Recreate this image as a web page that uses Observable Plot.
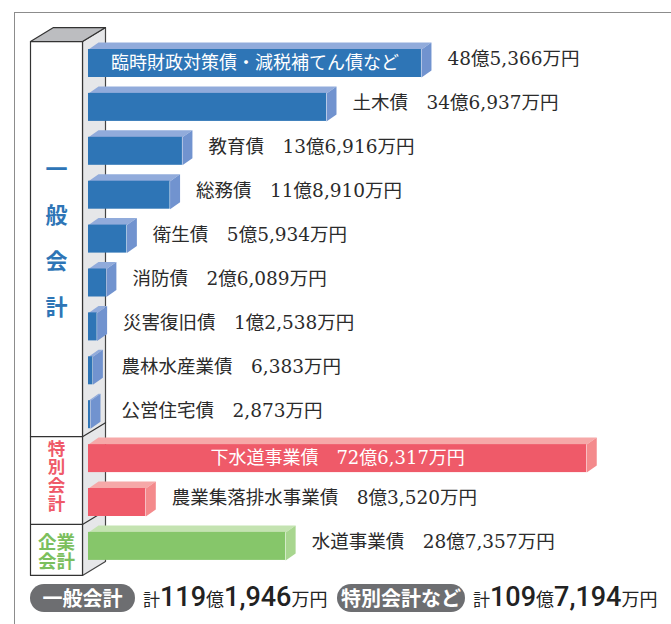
<!DOCTYPE html>
<html>
<head>
<meta charset="utf-8">
<script src="https://cdn.jsdelivr.net/npm/d3@7"></script>
<script src="https://cdn.jsdelivr.net/npm/@observablehq/plot@0.6"></script>
<style>
  html, body { margin: 0; padding: 0; background: #fff; }
  body { width: 671px; height: 624px; position: relative; overflow: hidden; font-family: "Noto Sans CJK JP", sans-serif; }
  #chart { position: absolute; left: 0; top: 0; }
  #frame { position: absolute; left: 14px; top: 12px; width: 657px; height: 612px; box-sizing: border-box;
           border-left: 1.5px solid #8c8c8c; border-top: 1.5px solid #8c8c8c; pointer-events: none; }
  .tot { position: absolute; top: 584px; display: flex; align-items: center; color: #222; }
  .pill { display: inline-block; height: 28px; line-height: 28px; border-radius: 14px; background: #6d6e71; color: #fff;
          font-family: "Noto Sans CJK JP", sans-serif; font-size: 20px; font-weight: 700; text-align: center; }
  .sum { display: inline-flex; align-items: baseline; margin-left: 8px; line-height: 1; margin-top: -2px; }
  .sum .k { font-family: "Noto Sans CJK JP", sans-serif; font-size: 17px; font-weight: 400; }
  .sum .b { font-family: "Roboto", "Noto Sans CJK JP", sans-serif; font-size: 27px; font-weight: 500; }
  .sum .m { font-family: "Noto Sans CJK JP", sans-serif; font-size: 18px; font-weight: 400; }
</style>
</head>
<body>
<div id="chart"></div>
<div id="frame"></div>
<div id="totals"></div>
<script>
// ---------------- data ----------------
const names = ["臨時財政対策債・減税補てん債など", "土木債", "教育債", "総務債", "衛生債", "消防債",
               "災害復旧債", "農林水産業債", "公営住宅債", "下水道事業債", "農業集落排水事業債", "水道事業債"];
// values in 億円
const values = [48.5366, 34.6937, 13.6916, 11.8910, 5.5934, 2.6089, 1.2538, 0.6383, 0.2873, 72.6317, 8.3520, 28.7357];
const accounts = ["一般会計", "一般会計", "一般会計", "一般会計", "一般会計", "一般会計", "一般会計", "一般会計", "一般会計",
                  "特別会計", "特別会計", "企業会計"];
// label placement: "split" = name inside / value outside, "in" = all inside, "out" = all outside
const labelModes = ["split", "out", "out", "out", "out", "out", "out", "out", "out", "in", "out", "out"];
const groups = ["一般会計", "特別会計", "企業会計"];
const groupLines = [["一", "般", "会", "計"], ["特", "別", "会", "計"], ["企業", "会計"]];
const totalLabels = ["一般会計", "特別会計など"];

// ---------------- style / layout ----------------
const palette = {
  "一般会計": {front: "#2e75b6", top: "#91abdb", side: "#7193cf", text: "#2e75b6"},
  "特別会計": {front: "#ef5a69", top: "#f6a8a8", side: "#f48a8c", text: "#ef5a69"},
  "企業会計": {front: "#86c66a", top: "#c4e3b1", side: "#a8d68f", text: "#7bbf5e"}
};
const groupFont = {"一般会計": {fs: 22, lh: 46 / 22, shift: -8}, "特別会計": {fs: 17.5, lh: 18.6 / 17.5, shift: -4}, "企業会計": {fs: 18.5, lh: 19 / 18.5, shift: 2}};
const W = 671, H = 580;
const PX = 6.86;          // pixels per 億円
const X0 = 88;            // pixel of zero
const ROW0 = 63, STEP = 43.9;
const BAR_H = 28, DX = 10, DY = 7;
const xd = p => (p - X0) / PX;          // pixel -> x data
const yd = p => (p - ROW0) / STEP;      // pixel -> y data
const yp = r => ROW0 + r * STEP;        // row -> pixel

function fmt(v) {
  const n = Math.round(v * 10000);
  const oku = Math.floor(n / 10000), man = n % 10000;
  return (oku > 0 ? oku + "億" : "") + d3.format(",")(man) + "万円";
}

const rows = names.map((name, i) => ({i, name, v: values[i], acc: accounts[i], mode: labelModes[i]}));

// 3D bar faces
const ddx = DX / PX, ddy = DY / STEP, hh = BAR_H / 2 / STEP;
const topPts = [], sidePts = [];
rows.forEach(r => {
  const t = r.i - hh, b = r.i + hh;
  [[0, t], [r.v, t], [r.v + ddx, t - ddy], [ddx, t - ddy], [0, t]].forEach(([x, y]) => topPts.push({id: r.i, acc: r.acc, x, y}));
  [[r.v, t], [r.v + ddx, t - ddy], [r.v + ddx, b - ddy], [r.v, b], [r.v, t]].forEach(([x, y]) => sidePts.push({id: r.i, acc: r.acc, x, y}));
});

// box (legend column) geometry in pixels
const boxL = 30, boxR = 82, depthX = 23, depthY = 14;
const boxTop = yp(-0.5);
const div1 = yp(8.5), div2 = yp(10.5);
const boxBot = yp(11) + 29;
const poly = (id, pts) => pts.map(([px, py]) => ({id, x: xd(px), y: yd(py)}));
const boxSide = poly("side", [[boxR, boxTop], [boxR + depthX, boxTop - depthY], [boxR + depthX, boxBot - depthY], [boxR, boxBot], [boxR, boxTop]]);
const boxTopFace = poly("top", [[boxL, boxTop], [boxL + depthX, boxTop - depthY], [boxR + depthX, boxTop - depthY], [boxR, boxTop], [boxL, boxTop]]);
const boxFront = poly("front", [[boxL, boxTop], [boxR, boxTop], [boxR, boxBot], [boxL, boxBot], [boxL, boxTop]]);
const boxLines = [
  ...poly("d1", [[boxL, div1], [boxR, div1], [boxR + depthX, div1 - depthY]]),
  ...poly("d2", [[boxL, div2], [boxR, div2], [boxR + depthX, div2 - depthY]])
];

// vertical group labels (one multi-line text per group)
const cx = (boxL + boxR) / 2;
const spans = {"一般会計": [boxTop, div1], "特別会計": [div1, div2], "企業会計": [div2, boxBot]};
const groupText = groups.map((g, k) => {
  const [a, b] = spans[g];
  return {g, t: groupLines[k].join("\n"), x: xd(cx), y: yd((a + b) / 2 + groupFont[g].shift)};
});

// bar labels
const labelFont = "'DejaVu Serif', 'Noto Sans CJK JP', serif";
const outX = r => xd(Math.max(X0 + r.v * PX + DX + 16, 121));
const labelsOut = [], labelsIn = [];
rows.forEach(r => {
  const val = fmt(r.v);
  if (r.mode === "out") labelsOut.push({x: outX(r), y: r.i, t: r.name + "\u3000" + val});
  else if (r.mode === "split") {
    labelsIn.push({x: r.v / 2, y: r.i, t: r.name});
    labelsOut.push({x: outX(r), y: r.i, t: val});
  } else labelsIn.push({x: r.v / 2, y: r.i, t: r.name + "\u3000" + val});
});

const marks = [
  Plot.line(boxSide, {x: "x", y: "y", z: "id", fill: "#e6e7e9", stroke: "#444", strokeWidth: 1.2}),
  Plot.line(boxTopFace, {x: "x", y: "y", z: "id", fill: "#bcbdc0", stroke: "#333", strokeWidth: 1.2}),
  Plot.line(boxFront, {x: "x", y: "y", z: "id", fill: "#fff", stroke: "#333", strokeWidth: 1.2}),
  Plot.line(boxLines, {x: "x", y: "y", z: "id", stroke: "#333", strokeWidth: 1.2}),
  ...groups.map(g => Plot.line(topPts.filter(d => d.acc === g), {x: "x", y: "y", z: "id", fill: palette[g].top, stroke: "none"})),
  ...groups.map(g => Plot.line(sidePts.filter(d => d.acc === g), {x: "x", y: "y", z: "id", fill: palette[g].side, stroke: "none"})),
  ...groups.map(g => Plot.rect(rows.filter(r => r.acc === g), {x1: 0, x2: "v", y1: r => r.i - hh, y2: r => r.i + hh, fill: palette[g].front})),
  Plot.text(labelsOut, {x: "x", y: "y", text: "t", textAnchor: "start", fill: "#2b2b2b", fontSize: 18.5, fontFamily: labelFont, dy: -4}),
  Plot.text(labelsIn, {x: "x", y: "y", text: "t", textAnchor: "middle", fill: "#fff", fontSize: 18, fontFamily: labelFont}),
  ...groups.map(g => Plot.text(groupText.filter(d => d.g === g), {x: "x", y: "y", text: "t", fill: palette[g].text,
      fontSize: groupFont[g].fs, lineHeight: groupFont[g].lh, fontWeight: "bold", fontFamily: "'Noto Sans CJK JP', sans-serif"}))
];

const svg = Plot.plot({
  width: W, height: H,
  marginTop: 0, marginBottom: 0, marginLeft: 0, marginRight: 0,
  style: {background: "transparent", overflow: "visible"},
  x: {domain: [0, 80], range: [X0, X0 + 80 * PX], axis: null},
  y: {domain: [yd(0), yd(H)], range: [0, H], axis: null},
  marks
});
document.getElementById("chart").appendChild(svg);

// totals below the chart
const totGeneral = d3.sum(rows.filter(r => r.acc === "一般会計"), r => r.v);
const totOther = d3.sum(rows.filter(r => r.acc !== "一般会計"), r => r.v);
function sumHTML(v) {
  const n = Math.round(v * 10000);
  const oku = Math.floor(n / 10000), man = d3.format(",")(n % 10000);
  return `<span class="sum"><span class="k">計</span><span class="b">${oku}</span><span class="m">億</span><span class="b">${man}</span><span class="m">万円</span></span>`;
}
document.getElementById("totals").innerHTML =
  `<div class="tot" style="left:30px"><span class="pill" style="width:105px">${totalLabels[0]}</span>${sumHTML(totGeneral)}</div>` +
  `<div class="tot" style="left:337px"><span class="pill" style="width:128px">${totalLabels[1]}</span>${sumHTML(totOther)}</div>`;
</script>
</body>
</html>
